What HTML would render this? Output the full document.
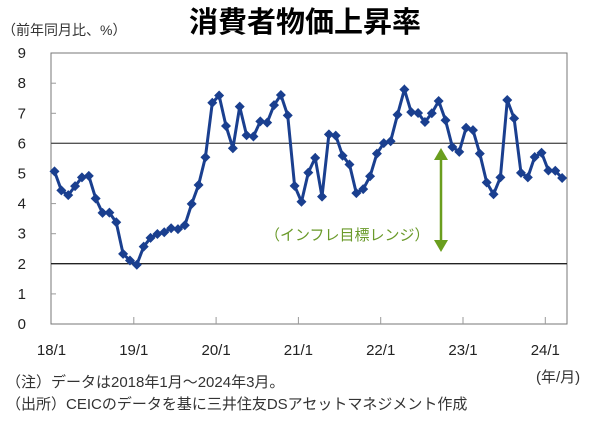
<!DOCTYPE html>
<html><head><meta charset="utf-8"><style>
body{margin:0;background:#fff;width:600px;height:421px;overflow:hidden;font-family:"Liberation Sans","Noto Sans CJK JP",sans-serif}
</style></head><body>
<svg id="s" width="600" height="421" xmlns="http://www.w3.org/2000/svg" font-family="Liberation Sans, Noto Sans CJK JP, sans-serif">
<text x="305" y="32" font-size="29" font-weight="bold" text-anchor="middle" fill="#000">消費者物価上昇率</text>
<text x="2" y="35" font-size="14" fill="#333">（前年同月比、%）</text>
<rect x="51" y="53" width="516" height="271" fill="none" stroke="#777" stroke-width="1"/>
<line x1="51" y1="143.3" x2="567" y2="143.3" stroke="#555" stroke-width="1.3"/>
<line x1="51" y1="263.7" x2="567" y2="263.7" stroke="#222" stroke-width="1.3"/>
<g id="yt" font-size="15" fill="#222" text-anchor="end"></g>
<g id="xt" font-size="15" fill="#222" text-anchor="middle"></g>
<g id="d"></g>
<text x="265" y="240" font-size="15" fill="#6a9a2a">（インフレ目標レンジ）</text>
<line x1="441" y1="158" x2="441" y2="243" stroke="#6a9e1e" stroke-width="2.5"/>
<polygon points="434,160 448,160 441,148" fill="#6a9e1e"/>
<polygon points="434,240 448,240 441,252" fill="#6a9e1e"/>
<text x="536" y="382" font-size="15" fill="#333">(年/月)</text>
<text x="6" y="387" font-size="15" fill="#333">（注）データは2018年1月～2024年3月。</text>
<text x="6" y="409" font-size="15" fill="#333">（出所）CEICのデータを基に三井住友DSアセットマネジメント作成</text>
</svg>
<script>
var v=[5.07,4.44,4.28,4.58,4.87,4.92,4.17,3.69,3.70,3.38,2.33,2.11,1.97,2.57,2.86,2.99,3.05,3.18,3.15,3.28,3.99,4.62,5.54,7.35,7.59,6.58,5.84,7.22,6.27,6.23,6.73,6.69,7.27,7.61,6.93,4.59,4.06,5.03,5.52,4.23,6.30,6.26,5.59,5.30,4.35,4.48,4.91,5.66,6.01,6.07,6.95,7.79,7.04,7.01,6.71,7.00,7.41,6.77,5.88,5.72,6.52,6.44,5.66,4.70,4.31,4.87,7.44,6.83,5.02,4.87,5.55,5.69,5.10,5.09,4.85];
var ns="http://www.w3.org/2000/svg";function Y(a){return 324-a*30.1}function X(i){return 54.5+i*6.86}
var yt=document.getElementById('yt');for(var k=0;k<=9;k++){var t=document.createElementNS(ns,'text');t.setAttribute('x',26);t.setAttribute('y',Y(k)+5);t.textContent=k;yt.appendChild(t);if(k>0&&k<9&&k!=2&&k!=6){var l=document.createElementNS(ns,'line');l.setAttribute('x1',51);l.setAttribute('x2',56);l.setAttribute('y1',Y(k));l.setAttribute('y2',Y(k));l.setAttribute('stroke','#999');yt.appendChild(l);}}
var xt=document.getElementById('xt'),lb=['18/1','19/1','20/1','21/1','22/1','23/1','24/1'];
for(var j=0;j<7;j++){var x=51.5+j*82.3;var t=document.createElementNS(ns,'text');t.setAttribute('x',x);t.setAttribute('y',355);t.textContent=lb[j];xt.appendChild(t);if(j>0){var l=document.createElementNS(ns,'line');l.setAttribute('x1',x);l.setAttribute('x2',x);l.setAttribute('y1',317);l.setAttribute('y2',324);l.setAttribute('stroke','#999');xt.appendChild(l);}}
var d=document.getElementById('d'),p='';for(var i=0;i<v.length;i++)p+=X(i).toFixed(1)+','+Y(v[i]).toFixed(1)+' ';
var pl=document.createElementNS(ns,'polyline');pl.setAttribute('points',p);pl.setAttribute('fill','none');pl.setAttribute('stroke','#1a3f8f');pl.setAttribute('stroke-width','3');d.appendChild(pl);
for(var i=0;i<v.length;i++){var x=X(i),y=Y(v[i]),r=5;var g=document.createElementNS(ns,'polygon');g.setAttribute('points',x+','+(y-r)+' '+(x+r)+','+y+' '+x+','+(y+r)+' '+(x-r)+','+y);g.setAttribute('fill','#1a3f8f');d.appendChild(g);}
</script>
</body></html>
